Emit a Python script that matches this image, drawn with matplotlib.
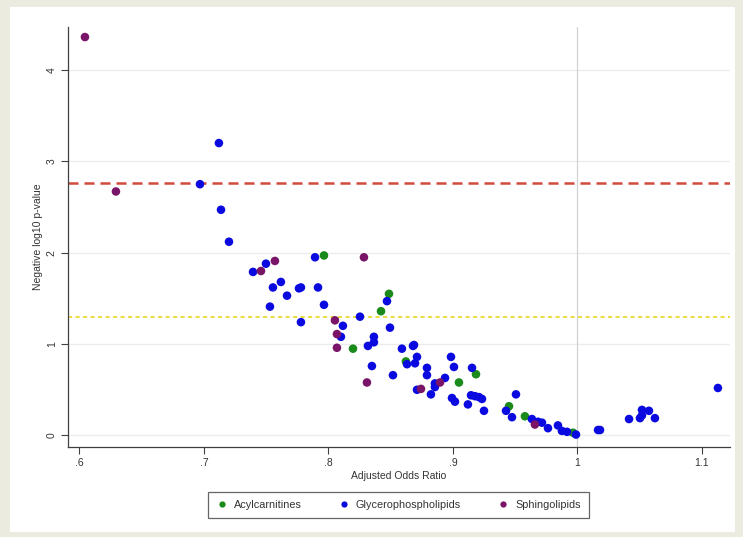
import matplotlib
matplotlib.use("Agg")
import matplotlib.pyplot as plt
from matplotlib.lines import Line2D
from matplotlib.patches import Rectangle

plt.rcParams['font.family'] = ['Liberation Sans', 'DejaVu Sans']

# Data (adjusted odds ratio, -log10 p-value)
acyl_or = [0.7964, 0.8486, 0.8422, 0.8197, 0.8622, 0.9048, 0.9185, 0.9450, 0.9578, 0.9964]
acyl_p = [1.97, 1.55, 1.36, 0.95, 0.81, 0.58, 0.67, 0.32, 0.21, 0.03]

glyc_or = [0.7120, 0.6968, 0.7137, 0.7201, 0.7394, 0.7498, 0.7530, 0.7554, 0.7618, 0.7667,
           0.7763, 0.7779, 0.7779, 0.7892, 0.7916, 0.7964, 0.8116, 0.8100, 0.8253, 0.8470,
           0.8494, 0.8365, 0.8365, 0.8317, 0.8349, 0.8518, 0.8590, 0.8631, 0.8679, 0.8687,
           0.8711, 0.8695, 0.8791, 0.8791, 0.8711, 0.8823, 0.8855, 0.8855, 0.8936, 0.8984,
           0.9008, 0.8992, 0.9016, 0.9153, 0.9120, 0.9145, 0.9177, 0.9209, 0.9233, 0.9249,
           0.9426, 0.9474, 0.9506, 0.9634, 0.9683, 0.9715, 0.9763, 0.9843, 0.9875, 0.9916,
           0.9988, 1.0165, 1.0181, 1.0414, 1.0502, 1.0518, 1.0518, 1.0574, 1.0622, 1.1128]
glyc_p = [3.20, 2.75, 2.47, 2.12, 1.79, 1.88, 1.41, 1.62, 1.68, 1.53,
          1.61, 1.62, 1.24, 1.95, 1.62, 1.43, 1.20, 1.08, 1.30, 1.47,
          1.18, 1.08, 1.02, 0.98, 0.76, 0.66, 0.95, 0.78, 0.98, 0.99,
          0.86, 0.79, 0.74, 0.66, 0.50, 0.45, 0.57, 0.53, 0.63, 0.86,
          0.75, 0.41, 0.37, 0.74, 0.34, 0.44, 0.43, 0.42, 0.40, 0.27,
          0.27, 0.20, 0.45, 0.18, 0.15, 0.14, 0.08, 0.11, 0.05, 0.04,
          0.01, 0.06, 0.06, 0.18, 0.19, 0.22, 0.28, 0.27, 0.19, 0.52]

sphingo_or = [0.6044, 0.6293, 0.7458, 0.7570, 0.8285, 0.8052, 0.8068, 0.8068, 0.8309,
              0.8743, 0.8896, 0.9658]
sphingo_p = [4.36, 2.67, 1.80, 1.91, 1.95, 1.26, 1.11, 0.96, 0.58, 0.51, 0.58, 0.12]

bonferroni_line = 2.76
nominal_line = 1.30

x_ticks = [0.6, 0.7, 0.8, 0.9, 1.0, 1.1]
x_ticklabels = ['.6', '.7', '.8', '.9', '1', '1.1']
y_ticks = [0, 1, 2, 3, 4]
y_ticklabels = ['0', '1', '2', '3', '4']

series_names = ['Acylcarnitines', 'Glycerophospholipids', 'Sphingolipids']
series_colors = ['#1a8a1a', '#0a0ae0', '#7a1468']

W, H = 743, 537
fig = plt.figure(figsize=(W / 100, H / 100), dpi=100)
fig.patch.set_facecolor('#ecebe0')
fig.patches.append(Rectangle((10 / W, 1 - 532 / H), (735 - 10) / W, (532 - 7) / H,
                             transform=fig.transFigure, facecolor='white',
                             edgecolor='none', zorder=-10))

ax = fig.add_axes([68 / W, 1 - 447 / H, (730 - 68) / W, (447 - 27) / H])
ax.set_zorder(5)
ax.set_facecolor('white')
ax.set_xlim(0.5908, 1.1225)
ax.set_ylim(-0.126, 4.47)

for yv in y_ticks:
    ax.axhline(yv, color='#ececec', lw=1.0, zorder=1)
ax.axvline(1.0, color='#d2d2d2', lw=0.9, zorder=1)
ax.axhline(bonferroni_line, color='#d24a3a', lw=1.8, ls=(0, (4, 2.4)), zorder=2)
ax.axhline(nominal_line, color='#e8d820', lw=1.2, ls=(0, (2.5, 2)), zorder=2)

groups = [(acyl_or, acyl_p), (glyc_or, glyc_p), (sphingo_or, sphingo_p)]
for (xs, ys), name, col in zip(groups, series_names, series_colors):
    ax.scatter(xs, ys, s=38, color=col, edgecolors='none', zorder=3, label=name)

for s in ['top', 'right']:
    ax.spines[s].set_visible(False)
for s in ['left', 'bottom']:
    ax.spines[s].set_color('#404040')
    ax.spines[s].set_linewidth(0.9)

ax.set_xticks(x_ticks)
ax.set_xticklabels(x_ticklabels)
ax.set_yticks(y_ticks)
ax.set_yticklabels(y_ticklabels, rotation=90, va='center')
ax.tick_params(axis='both', length=5, width=0.8, color='#404040', labelsize=7.5,
               labelcolor='#333333', pad=3)
ax.set_xlabel('Adjusted Odds Ratio', fontsize=7.5, color='#333333', labelpad=2)
ax.set_ylabel('Negative log10 p-value', fontsize=7.5, color='#333333', labelpad=3)

handles = [Line2D([], [], marker='o', ls='none', markersize=4.5, color=c,
                  markeredgecolor='none') for c in series_colors]
leg = fig.legend(handles, series_names, loc='center', bbox_to_anchor=(398.5 / W, 1 - 505 / H),
                 ncol=3, fontsize=7.8, frameon=True, fancybox=False, handletextpad=0.6,
                 columnspacing=3.4, borderpad=0.75, handlelength=1.0)
leg.get_frame().set_edgecolor('#404040')
leg.get_frame().set_linewidth(0.9)
for t in leg.get_texts():
    t.set_color('#333333')

fig.savefig('out.png', dpi=100, facecolor=fig.get_facecolor())
